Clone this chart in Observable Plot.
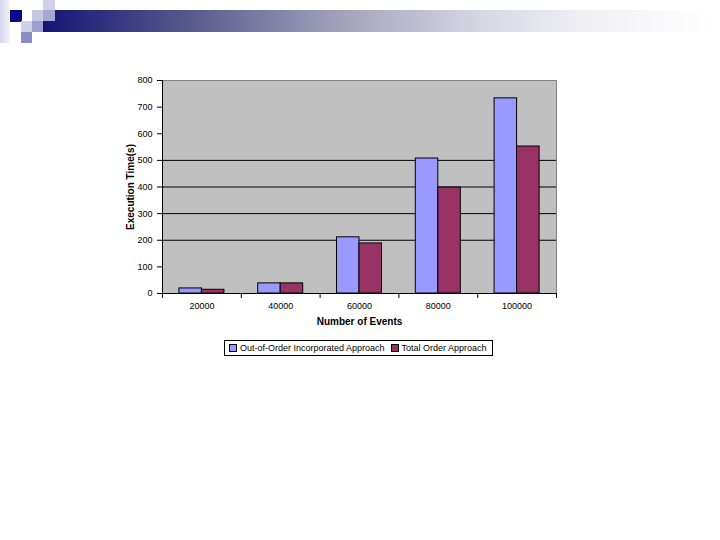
<!DOCTYPE html>
<html>
<head>
<meta charset="utf-8">
<script src="https://cdn.jsdelivr.net/npm/d3@7"></script>
<script src="https://cdn.jsdelivr.net/npm/@observablehq/plot@0.6"></script>
<style>
  html, body { margin: 0; padding: 0; background: #fff; width: 720px; height: 540px; overflow: hidden; font-family: "Liberation Sans", Arial, sans-serif; }
  .abs { position: absolute; }
  #chart { position: absolute; left: 120px; top: 70px; }
  #legend { position: absolute; left: 224px; top: 340px; width: 269px; height: 16px; border: 1px solid #000; background: #fff;
            display: flex; align-items: center; font-size: 9px; white-space: nowrap; box-sizing: border-box; padding-left: 4px; }
  #legend .sw { display: inline-block; width: 6px; height: 6px; border: 1px solid #000; margin-right: 3px; }
  #legend .item { display: inline-flex; align-items: center; margin-right: 6px; }
</style>
</head>
<body>
<div class="abs" style="left:0;top:0;width:10px;height:43px;background:linear-gradient(to right,#d4d4ec,#f4f4fa);"></div>
<div class="abs" style="left:43px;top:10px;width:677px;height:22px;background:linear-gradient(to right,#141478 0%,#5a5a8e 22%,#9c9cb8 42%,#d8d8e4 65%,#f2f2f6 82%,#ffffff 100%);"></div>
<div class="abs" style="left:10px;top:10px;width:12px;height:12px;background:#0c0c80;"></div>
<div class="abs" style="left:32px;top:10px;width:11px;height:11px;background:#c8c8e4;"></div>
<div class="abs" style="left:43px;top:0px;width:12px;height:10px;background:#d0d0e8;"></div>
<div class="abs" style="left:43px;top:10px;width:12px;height:11px;background:#a8a8d4;"></div>
<div class="abs" style="left:21px;top:21px;width:11px;height:11px;background:#d0d0e8;"></div>
<div class="abs" style="left:32px;top:21px;width:11px;height:11px;background:#a0a0d0;"></div>
<div class="abs" style="left:21px;top:32px;width:11px;height:11px;background:#8c8cc4;"></div>

<div id="chart"></div>
<div id="legend"></div>

<script>
const categories = ["20000", "40000", "60000", "80000", "100000"];
const outOfOrder = [19, 38, 211, 507, 733];
const totalOrder = [14, 38, 188, 398, 552];
const seriesNames = ["Out-of-Order Incorporated Approach", "Total Order Approach"];
const seriesColors = ["#9999ff", "#993366"];
const yTicks = [0, 100, 200, 300, 400, 500, 600, 700, 800];
const gridValues = [200, 300, 400, 500];

const seriesValues = [outOfOrder, totalOrder];
const rows = [];
categories.forEach((c, i) => {
  seriesValues.forEach((vals, s) => {
    rows.push({ i, s, category: c, series: seriesNames[s], value: vals[i] });
  });
});
// Excel-like clustered layout: gap width 150% -> each category split into 3.5 bar widths
const barW = 1 / 3.5;
const boundaries = d3.range(categories.length + 1);

const chart = Plot.plot({
  width: 450,
  height: 262,
  marginLeft: 42,
  marginRight: 14,
  marginTop: 10,
  marginBottom: 39,
  style: { fontFamily: "Liberation Sans, Arial, sans-serif", fontSize: "9px", background: "transparent", color: "#000" },
  x: { type: "linear", domain: [0, categories.length], axis: null },
  y: { domain: [0, 800], axis: null },
  color: { domain: seriesNames, range: seriesColors },
  marks: [
    Plot.frame({ fill: "#c0c0c0", stroke: "#808080" }),
    Plot.ruleY(gridValues, { stroke: "#000", strokeWidth: 1 }),
    Plot.rectY(rows, {
      x1: d => d.i + (0.75 + d.s) * barW,
      x2: d => d.i + (1.75 + d.s) * barW,
      y1: 0,
      y2: "value",
      fill: "series",
      stroke: "#000",
      strokeWidth: 1
    }),
    Plot.ruleX([0], { stroke: "#000" }),
    Plot.ruleY([0], { stroke: "#000" }),
    Plot.axisY({ ticks: yTicks, tickSize: 5, tickPadding: 5, tickFormat: d3.format("d"), fontSize: 9,
      label: "Execution Time(s)", labelAnchor: "center", labelArrow: "none", labelOffset: 36 }),
    Plot.axisX({ ticks: boundaries, tickSize: 5, tickFormat: () => "" , label: null}),
    Plot.text(categories, { x: (d, i) => i + 0.5, frameAnchor: "bottom", dy: 15, fontSize: 9 }),
    Plot.text(["Number of Events"], { x: categories.length / 2, frameAnchor: "bottom", dy: 31, fontSize: 10, fontWeight: "bold" })
  ]
});
document.getElementById("chart").appendChild(chart);
// bold y label
chart.querySelectorAll("g[aria-label='y-axis label'] text, g[aria-label='y-axis label']").forEach(n => { n.setAttribute("font-weight", "bold"); n.setAttribute("font-size", "10"); });

const legend = document.getElementById("legend");
seriesNames.forEach((name, s) => {
  const item = document.createElement("span");
  item.className = "item";
  const sw = document.createElement("span");
  sw.className = "sw";
  sw.style.background = seriesColors[s];
  item.appendChild(sw);
  item.appendChild(document.createTextNode(name));
  legend.appendChild(item);
});
</script>
</body>
</html>
